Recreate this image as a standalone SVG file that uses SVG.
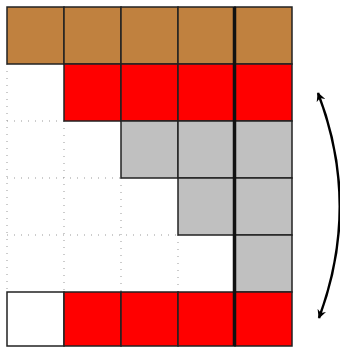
<svg xmlns="http://www.w3.org/2000/svg" width="340" height="347" viewBox="0 0 340 347">
<defs>
<style>
.c{stroke:#222;stroke-width:1.5}
.b{fill:#C0813F}
.r{fill:#FF0000}
.g{fill:#C0C0C0}
.w{fill:#FFFFFF}
.d{stroke:#999;stroke-width:1;stroke-dasharray:1 6;fill:none}
</style>
<marker id="ah" viewBox="0 0 10 10" refX="9" refY="5" markerWidth="9" markerHeight="9" orient="auto-start-reverse" markerUnits="userSpaceOnUse">
<path d="M0,0 L10,5 L0,10 L3,5 Z" fill="#000"/>
</marker>
</defs>
<rect width="340" height="347" fill="#fff"/>
<g id="dotted">
<path class="d" d="M7,64V292M64,121V292M121,178V292M178,235V292M7,121H64M7,178H121M7,235H178"/>
</g>
<g id="row0">
<rect class="c b" x="7" y="7" width="57" height="57"/>
<rect class="c b" x="64" y="7" width="57" height="57"/>
<rect class="c b" x="121" y="7" width="57" height="57"/>
<rect class="c b" x="178" y="7" width="57" height="57"/>
<rect class="c b" x="235" y="7" width="57" height="57"/>
</g>
<g id="row1">
<rect class="c r" x="64" y="64" width="57" height="57"/>
<rect class="c r" x="121" y="64" width="57" height="57"/>
<rect class="c r" x="178" y="64" width="57" height="57"/>
<rect class="c r" x="235" y="64" width="57" height="57"/>
</g>
<g id="row2">
<rect class="c g" x="121" y="121" width="57" height="57"/>
<rect class="c g" x="178" y="121" width="57" height="57"/>
<rect class="c g" x="235" y="121" width="57" height="57"/>
</g>
<g id="row3">
<rect class="c g" x="178" y="178" width="57" height="57"/>
<rect class="c g" x="235" y="178" width="57" height="57"/>
</g>
<g id="row4">
<rect class="c g" x="235" y="235" width="57" height="57"/>
</g>
<g id="row5">
<rect class="c w" x="7" y="292" width="57" height="54"/>
<rect class="c r" x="64" y="292" width="57" height="54"/>
<rect class="c r" x="121" y="292" width="57" height="54"/>
<rect class="c r" x="178" y="292" width="57" height="54"/>
<rect class="c r" x="235" y="292" width="57" height="54"/>
</g>
<g id="connectors">
<line x1="234.5" y1="7" x2="234.5" y2="346" stroke="#111" stroke-width="3.5"/>
<path d="M318,93 Q361,205 319,318" fill="none" stroke="#000" stroke-width="2.5" marker-start="url(#ah)" marker-end="url(#ah)"/>
</g>
</svg>
